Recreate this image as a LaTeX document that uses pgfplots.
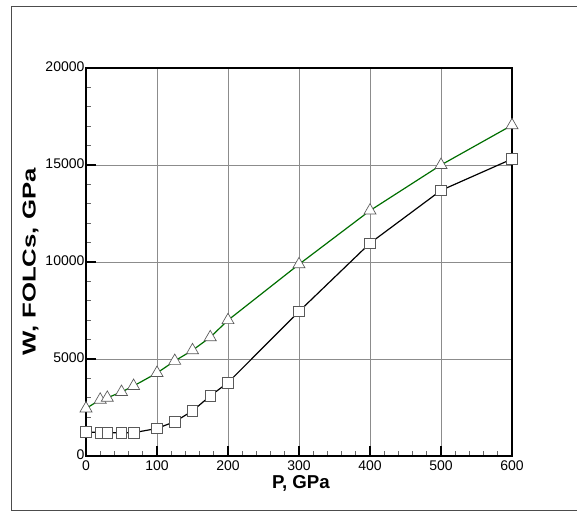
\documentclass[border=0pt]{standalone}
\usepackage{fontspec}
\setmainfont{Liberation Sans}
\usepackage{graphicx}
\usepackage{pgfplots}
\pgfplotsset{compat=1.18}
\definecolor{curvegreen}{RGB}{0,110,0}
\begin{document}
\begin{tikzpicture}
% 1px = 0.75pt, axis south west at (0,0)
\useasboundingbox (-64.5pt,-45pt) rectangle (368.25pt,342pt);
\draw[black!70, line width=0.75pt] (-55.5pt,-41.25pt) rectangle (370pt,336.75pt);
\begin{axis}[
    at={(0,0)}, anchor=south west,
    scale only axis,
    width=319.5pt, height=291pt,
    xmin=0, xmax=600,
    ymin=0, ymax=20000,
    xtick={0,100,...,600},
    ytick={0,5000,...,20000},
    scaled y ticks=false,
    minor x tick num=4,
    minor y tick num=4,
    tick pos=left,
    tick align=inside,
    major tick length=7.5pt,
    minor tick length=3.75pt,
    every major tick/.style={black, line width=1.2pt},
    every minor tick/.style={black!60, line width=0.6pt},
    grid=major,
    major grid style={black!45, line width=0.6pt},
    axis line style={line width=1.5pt},
    /pgf/number format/assume math mode=true,
    /pgf/number format/1000 sep={},
    tick label style={font=\fontsize{10.5}{12}\selectfont},
    xticklabel style={inner sep=1pt, yshift=-2.5pt},
    yticklabel style={inner sep=1pt, yshift=1pt},
    xlabel={\textbf{P, GPa}},
    ylabel={\scalebox{1.38}[1]{\textbf{W, FOLCs, GPa}}},
    label style={font=\fontsize{14}{16}\selectfont},
    xlabel style={at={(axis description cs:0.5,0)}, anchor=center, yshift=-20.25pt, xshift=1.5pt},
    ylabel style={at={(axis description cs:0,0.5)}, anchor=center, yshift=41.5pt},
]
% FOLCs (squares)
\addplot[black, line width=0.9pt, mark=square*, mark size=4pt,
    mark options={fill=white, draw=black!65, line width=0.5pt}] table {
x y
0 1250
20 1200
30 1200
50 1200
67 1200
100 1420
125 1770
150 2320
175 3100
200 3780
300 7450
400 10970
500 13690
600 15310
};
% W (triangles)
\addplot[curvegreen, line width=0.9pt, mark=triangle*, mark size=5.2pt,
    mark options={fill=white, draw=black!65, line width=0.5pt}] table {
x y
0 2450
20 2900
30 3000
50 3300
67 3610
100 4280
125 4900
150 5450
175 6120
200 7000
300 9880
400 12650
500 15000
600 17050
};
\end{axis}
\end{tikzpicture}
\end{document}
